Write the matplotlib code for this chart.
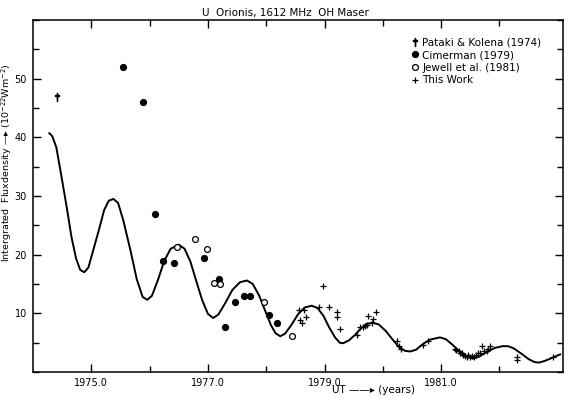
import numpy as np
import matplotlib.pyplot as plt
from matplotlib.ticker import MultipleLocator, FixedLocator

# model curve
curve_t = [1974.28, 1974.33, 1974.40, 1974.48, 1974.58, 1974.66, 1974.74, 1974.81, 1974.88,
           1974.95, 1975.02, 1975.13, 1975.22, 1975.30, 1975.38,
           1975.46, 1975.55, 1975.67, 1975.78, 1975.88, 1975.96,
           1976.04, 1976.14, 1976.25, 1976.36, 1976.50,
           1976.60, 1976.70, 1976.80, 1976.90, 1977.00, 1977.09,
           1977.18, 1977.30, 1977.42, 1977.55, 1977.67,
           1977.77, 1977.88, 1977.98, 1978.08, 1978.16, 1978.24,
           1978.32, 1978.43, 1978.55, 1978.66, 1978.78,
           1978.88, 1978.98, 1979.08, 1979.18, 1979.26, 1979.32,
           1979.42, 1979.52, 1979.62, 1979.72, 1979.83,
           1979.93, 1980.05, 1980.17, 1980.28, 1980.38, 1980.47,
           1980.57, 1980.68, 1980.80, 1980.98,
           1981.08, 1981.20, 1981.32, 1981.44, 1981.55,
           1981.65, 1981.78, 1981.92, 1982.05, 1982.15,
           1982.25, 1982.38, 1982.50, 1982.60, 1982.68,
           1982.78, 1982.90, 1983.04]
curve_v = [40.7, 40.2, 38.3, 33.8, 28.0, 23.0, 19.3, 17.4, 17.0,
           17.8, 20.3, 24.2, 27.6, 29.2, 29.5,
           28.8, 25.8, 20.8, 15.8, 12.8, 12.3,
           13.0, 15.6, 18.9, 21.0, 21.7,
           21.0, 18.8, 15.5, 12.3, 9.9, 9.2,
           9.8, 11.8, 14.0, 15.3, 15.6,
           15.0, 13.0, 10.5, 8.0, 6.6, 6.1,
           6.5, 8.0, 9.9, 11.0, 11.3,
           10.9, 9.6, 7.6, 5.9, 5.0, 4.9,
           5.4, 6.3, 7.4, 8.2, 8.4,
           8.1, 7.0, 5.5, 4.2, 3.6, 3.5,
           3.8, 4.7, 5.5, 5.9,
           5.6, 4.6, 3.4, 2.6, 2.3,
           2.6, 3.4, 4.1, 4.4, 4.4,
           4.0, 3.1, 2.2, 1.7, 1.6,
           1.9, 2.4, 3.0]

pataki_t = [1974.41]
pataki_v = [46.9]

cimerman_t = [1975.54, 1975.88, 1976.10, 1976.23, 1976.42, 1976.93, 1977.19, 1977.29,
              1977.47, 1977.62, 1977.72, 1978.05, 1978.19]
cimerman_v = [52.0, 46.0, 27.0, 18.9, 18.6, 19.5, 15.8, 7.6,
              12.0, 13.0, 13.0, 9.7, 8.3]

jewell_t = [1976.47, 1976.77, 1976.99, 1977.10, 1977.21, 1977.96, 1978.45]
jewell_v = [21.3, 22.7, 21.0, 15.2, 15.0, 11.9, 6.2]

work_t = [1978.98, 1978.56, 1978.64, 1978.58, 1978.62, 1978.69, 1978.91, 1979.07,
          1979.21, 1979.22, 1979.27, 1979.56, 1979.61, 1979.66, 1979.69, 1979.73,
          1979.75, 1979.83, 1979.88, 1979.81, 1980.24, 1980.28, 1980.31, 1980.69,
          1980.78, 1981.24, 1981.26, 1981.30, 1981.32, 1981.35, 1981.38, 1981.41,
          1981.44, 1981.46, 1981.49, 1981.53, 1981.56, 1981.60, 1981.63, 1981.66,
          1981.70, 1981.74, 1981.78, 1981.80, 1981.84, 1982.30, 1982.30, 1982.91]
work_v = [14.6, 10.5, 10.6, 8.9, 8.4, 9.3, 11.1, 11.1,
          10.3, 9.4, 7.3, 6.3, 7.6, 7.7, 7.8, 8.0,
          9.6, 9.0, 10.2, 8.3, 5.2, 4.4, 4.0, 4.6,
          5.2, 4.0, 3.8, 3.5, 3.2, 3.2, 2.9, 2.7,
          2.6, 2.9, 2.6, 2.7, 2.6, 2.9, 3.2, 3.2,
          4.4, 3.6, 3.5, 3.9, 4.4, 2.6, 2.0, 2.6]

year_ticks = [1975, 1977, 1979, 1981]
year_labels = ['1975.0', '1977.0', '1979.0', '1981.0']

fig = plt.figure(figsize=(5.7, 3.98), dpi=100)
ax = fig.add_axes([33/570, 1-372/398, 530/570, 352/398])

ax.plot(curve_t, curve_v, color='black', lw=1.4, zorder=2)
ax.plot(pataki_t, pataki_v, ls='none', marker='$\u2020$', ms=6, color='black',
        label='Pataki & Kolena (1974)')
ax.plot(cimerman_t, cimerman_v, ls='none', marker='o', ms=4.2, color='black',
        label='Cimerman (1979)')
ax.plot(jewell_t, jewell_v, ls='none', marker='o', ms=4.2, mfc='white', mec='black',
        mew=0.9, label='Jewell et al. (1981)')
ax.plot(work_t, work_v, ls='none', marker='+', ms=4.5, mew=0.9, color='black',
        label='This Work')

ax.set_xlim(1974.0, 1983.09)
ax.set_ylim(0, 60)
ax.xaxis.set_major_locator(FixedLocator(year_ticks))
ax.set_xticklabels(year_labels)
ax.xaxis.set_minor_locator(FixedLocator([1976, 1978, 1980, 1982]))
ax.yaxis.set_major_locator(FixedLocator([10, 20, 30, 40, 50]))
ax.yaxis.set_minor_locator(MultipleLocator(5))

ax.tick_params(which='both', direction='in', top=True, right=True, labelsize=7,
               width=1.0)
ax.tick_params(axis='y', pad=4.5)
ax.tick_params(axis='x', pad=4)
ax.tick_params(which='major', length=6)
ax.tick_params(which='minor', length=4)
for s in ax.spines.values():
    s.set_linewidth(1.1)

fig.text(285/570, 1-13/398, 'U  Orionis, 1612 MHz  OH Maser', ha='center', va='center',
         fontsize=7.5)
fig.text(374/570, 1-390/398, 'UT \u2014\u2014\u25b8 (years)', ha='center', va='center',
         fontsize=7.5)
fig.text(7/570, 1-163/398, 'Intergrated  Fluxdensity \u2014\u25b8 (10$^{-22}$Wm$^{-2}$)',
         rotation=90, ha='center', va='center', fontsize=6.8)

ax.legend(loc='upper left', bbox_to_anchor=(0.705, 0.965), frameon=False, fontsize=7.5,
          handlelength=0.6, handletextpad=0.4, labelspacing=0.25, borderpad=0,
          numpoints=1)

fig.savefig('out.png', dpi=100)
